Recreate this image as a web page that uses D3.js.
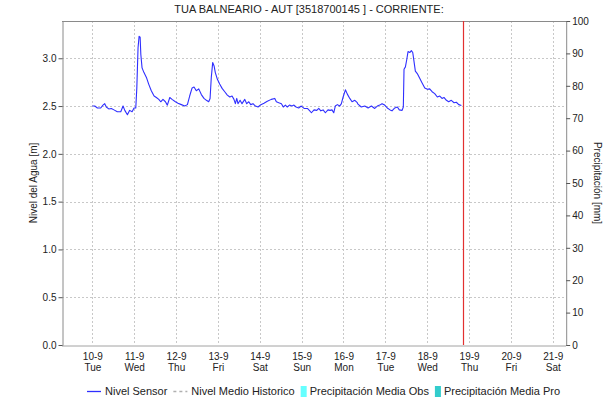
<!DOCTYPE html>
<html>
<head>
<meta charset="utf-8">
<script src="https://cdn.jsdelivr.net/npm/d3@7"></script>
<style>
  html, body { margin: 0; padding: 0; background: #fff; }
  svg { display: block; font-family: "Liberation Sans", Arial, sans-serif; }
</style>
</head>
<body>
<svg id="chart" width="616" height="401"></svg>
<script>
// Station and time window
const title = "TUA BALNEARIO - AUT [3518700145 ] - CORRIENTE:";
const baseTime = Date.UTC(2024, 8, 10, 0, 0);      // 10-9 00:00
const windowHours = [-17.4, 271.4];                 // visible range, hours from baseTime
const nowHours = 212.5;                             // current time marker

// Sensor level: hours from baseTime and level [m]
const sensorHours = [
  0, 1.4, 2.9, 4.8, 6.1, 7.1, 8.0, 9.4, 10.9, 12.4, 14.3, 16.3, 17.6, 18.6, 20.1, 21.4, 22.8, 23.9,
  24.9, 25.5, 26.2, 26.8, 27.4, 27.8, 28.5, 29.6, 31.0, 32.3, 33.8, 35.4, 36.7, 38.1, 39.2, 40.5,
  41.9, 43.0, 44.4, 45.7, 47.6, 49.1, 51.0, 53.0, 54.5, 55.8, 57.2, 58.3, 59.6, 61.0, 62.5, 64.0,
  65.4, 66.7, 67.5, 68.2, 69.0, 69.8, 70.5, 71.7, 73.0, 74.4, 75.9, 77.4, 78.8, 80.1, 81.2, 82.0,
  82.8, 83.5, 84.7, 85.8, 87.4, 88.5, 89.7, 90.8, 92.1, 93.5, 95.0, 96.6, 98.4, 100.3, 102.6, 104.6,
  105.5, 106.9, 108.4, 109.5, 110.7, 111.8, 113.0, 114.5, 115.6, 116.8, 118.3, 119.8, 121.4, 123.3,
  124.4, 125.6, 127.1, 128.7, 129.8, 131.0, 132.3, 133.6, 135.1, 136.3, 137.4, 138.4, 139.3, 140.5,
  141.8, 142.8, 143.7, 145.1, 146.2, 147.6, 148.9, 150.5, 151.9, 152.3, 154.2, 156.2, 158.1, 160.0,
  161.9, 163.4, 164.8, 166.1, 167.6, 169.1, 170.7, 171.8, 173.4, 174.9, 176.0, 177.6, 178.3, 178.7,
  179.5, 180.3, 181.0, 182.0, 182.9, 183.7, 184.4, 185.2, 186.3, 187.7, 189.0, 190.6, 192.1, 193.4,
  194.8, 196.3, 197.8, 199.2, 200.5, 201.6, 203.0, 204.3, 205.8, 207.4, 208.7, 210.1, 211.6
];
const sensorLevel = [
  2.50, 2.50, 2.48, 2.48, 2.51, 2.525, 2.49, 2.47, 2.475, 2.46, 2.44, 2.44, 2.50, 2.455, 2.41, 2.455, 2.44, 2.48,
  2.48, 2.69, 3.11, 3.23, 3.22, 3.04, 2.90, 2.85, 2.80, 2.73, 2.66, 2.605, 2.59, 2.57, 2.545, 2.57,
  2.545, 2.51, 2.59, 2.57, 2.545, 2.53, 2.515, 2.50, 2.515, 2.605, 2.69, 2.70, 2.66, 2.68, 2.62, 2.58,
  2.56, 2.545, 2.58, 2.80, 2.955, 2.92, 2.85, 2.78, 2.73, 2.685, 2.65, 2.615, 2.595, 2.605, 2.57, 2.525,
  2.58, 2.525, 2.56, 2.525, 2.57, 2.525, 2.545, 2.515, 2.525, 2.50, 2.49, 2.515, 2.53, 2.55, 2.57, 2.58,
  2.545, 2.535, 2.525, 2.49, 2.51, 2.49, 2.51, 2.50, 2.51, 2.49, 2.48, 2.50, 2.475, 2.475,
  2.455, 2.43, 2.46, 2.455, 2.475, 2.45, 2.46, 2.43, 2.46, 2.455, 2.46, 2.43, 2.50, 2.515,
  2.50, 2.525, 2.59, 2.67, 2.625, 2.58, 2.545, 2.56, 2.535, 2.52, 2.49, 2.50, 2.48, 2.50,
  2.475, 2.50, 2.51, 2.525, 2.51, 2.48, 2.46, 2.45, 2.48, 2.49, 2.46, 2.455, 2.49, 2.885,
  2.91, 2.99, 3.07, 3.06, 3.08, 3.06, 2.97, 2.865, 2.84, 2.79, 2.745, 2.69, 2.675, 2.68,
  2.65, 2.63, 2.595, 2.605, 2.58, 2.59, 2.56, 2.545, 2.56, 2.535, 2.54, 2.515, 2.505
];

// Axis ticks
const levelTicks = [0, 0.5, 1.0, 1.5, 2.0, 2.5, 3.0];
const rainTicks = [0, 10, 20, 30, 40, 50, 60, 70, 80, 90, 100];
const levelMax = 3.39;
const rainMax = 100;

// Legend entries
const legendItems = [
  { label: "Nivel Sensor", kind: "line", color: "#2f2fff" },
  { label: "Nivel Medio Historico", kind: "dash", color: "#b0b0b0" },
  { label: "Precipitación Media Obs", kind: "box", color: "#66ffff" },
  { label: "Precipitación Media Pro", kind: "box", color: "#33cccc" }
];

const toDate = h => new Date(baseTime + h * 3600e3);

const svg = d3.select("#chart");
const L = 62, R = 565.7, T = 21, B = 345;

const x = d3.scaleUtc().domain(windowHours.map(toDate)).range([L, R]);
const y = d3.scaleLinear().domain([0, levelMax]).range([B, T]);
const yR = d3.scaleLinear().domain([0, rainMax]).range([B, T]);

const dayTicks = d3.utcDay.range(toDate(0), toDate(windowHours[1]));

// Title
svg.append("text")
  .attr("x", 309).attr("y", 13)
  .attr("text-anchor", "middle")
  .attr("font-size", 11)
  .attr("fill", "#222")
  .text(title);

// Grid
const grid = svg.append("g").attr("stroke", "#c8c8c8").attr("stroke-width", 1)
  .attr("stroke-dasharray", "2,2").attr("shape-rendering", "crispEdges");
grid.selectAll("line.h").data(levelTicks.filter(d => d > 0)).join("line")
  .attr("class", "h")
  .attr("x1", L).attr("x2", R)
  .attr("y1", d => Math.round(y(d)) + 0.5).attr("y2", d => Math.round(y(d)) + 0.5);
grid.selectAll("line.v").data(dayTicks).join("line")
  .attr("class", "v")
  .attr("x1", d => Math.round(x(d)) + 0.5).attr("x2", d => Math.round(x(d)) + 0.5)
  .attr("y1", T).attr("y2", B);

// Frame: top border
svg.append("line")
  .attr("x1", L).attr("x2", R).attr("y1", T + 0.5).attr("y2", T + 0.5)
  .attr("stroke", "#8a8a8a").attr("shape-rendering", "crispEdges");

// Left axis
const gl = svg.append("g").attr("transform", `translate(${L + 0.5},0)`)
  .call(d3.axisLeft(y).tickValues(levelTicks).tickFormat(d3.format(".1f")).tickSize(4).tickSizeOuter(0));
gl.select(".domain").attr("stroke", "#8a8a8a");
gl.selectAll(".tick line").attr("stroke", "#555");
gl.selectAll(".tick text").attr("font-size", 10).attr("fill", "#222")
  .attr("font-family", "Liberation Sans, Arial, sans-serif").attr("x", -6);

// Right axis
const gr = svg.append("g").attr("transform", `translate(${R + 0.5},0)`)
  .call(d3.axisRight(yR).tickValues(rainTicks).tickFormat(d3.format("d")).tickSize(4).tickSizeOuter(0));
gr.select(".domain").attr("stroke", "#8a8a8a");
gr.selectAll(".tick line").attr("stroke", "#555");
gr.selectAll(".tick text").attr("font-size", 10).attr("fill", "#222")
  .attr("font-family", "Liberation Sans, Arial, sans-serif").attr("x", 6);

// Bottom axis (dotted baseline with two-line day labels)
const gb = svg.append("g").attr("transform", `translate(0,${B + 0.5})`)
  .call(d3.axisBottom(x).tickValues(dayTicks).tickSize(0).tickFormat(""));
gb.select(".domain").attr("stroke", "#444").attr("stroke-dasharray", "1,1");
const fmtDay = d3.utcFormat("%-d-%-m"), fmtWd = d3.utcFormat("%a");
gb.selectAll(".tick").each(function(d) {
  const t = d3.select(this).select("text")
    .attr("font-size", 10).attr("fill", "#222")
    .attr("font-family", "Liberation Sans, Arial, sans-serif")
    .attr("y", 0).attr("dy", 0);
  t.text(null);
  t.append("tspan").attr("x", 0).attr("y", 14).text(fmtDay(d));
  t.append("tspan").attr("x", 0).attr("y", 25).text(fmtWd(d));
});

// Axis titles
svg.append("text")
  .attr("transform", `translate(37,${(T + B) / 2}) rotate(-90)`)
  .attr("text-anchor", "middle").attr("font-size", 10).attr("fill", "#222")
  .text("Nivel del Agua [m]");
svg.append("text")
  .attr("transform", `translate(594,${(T + B) / 2}) rotate(90)`)
  .attr("text-anchor", "middle").attr("font-size", 10).attr("fill", "#222")
  .text("Precipitación [mm]");

// Sensor level line
const levelLine = d3.line()
  .x((d, i) => x(toDate(sensorHours[i])))
  .y(d => y(d));
svg.append("path")
  .datum(sensorLevel)
  .attr("d", levelLine)
  .attr("fill", "none")
  .attr("stroke", "#2f2fff")
  .attr("stroke-width", 1.1)
  .attr("stroke-linejoin", "round");

// Current time marker
const nowX = Math.round(x(toDate(nowHours))) + 0.5;
svg.append("line")
  .attr("x1", nowX).attr("x2", nowX)
  .attr("y1", T).attr("y2", B)
  .style("stroke", "#e23030").style("stroke-width", "1.2px");

// Legend
const lg = svg.append("g").attr("font-size", 11).attr("fill", "#222");
let cx = 87;
const ly = 391;
legendItems.forEach(item => {
  if (item.kind === "line" || item.kind === "dash") {
    lg.append("line")
      .attr("x1", cx).attr("x2", cx + 14).attr("y1", ly + 0.5).attr("y2", ly + 0.5)
      .style("stroke", item.color).style("stroke-width", "1.3px")
      .style("stroke-dasharray", item.kind === "dash" ? "3,3" : "none");
    cx += 18;
  } else {
    lg.append("rect")
      .attr("x", cx).attr("y", ly - 5).attr("width", 6).attr("height", 11)
      .attr("fill", item.color);
    cx += 9;
  }
  const t = lg.append("text").attr("x", cx).attr("y", ly + 4).text(item.label);
  cx += t.node().getComputedTextLength() + 6;
});
</script>
</body>
</html>
